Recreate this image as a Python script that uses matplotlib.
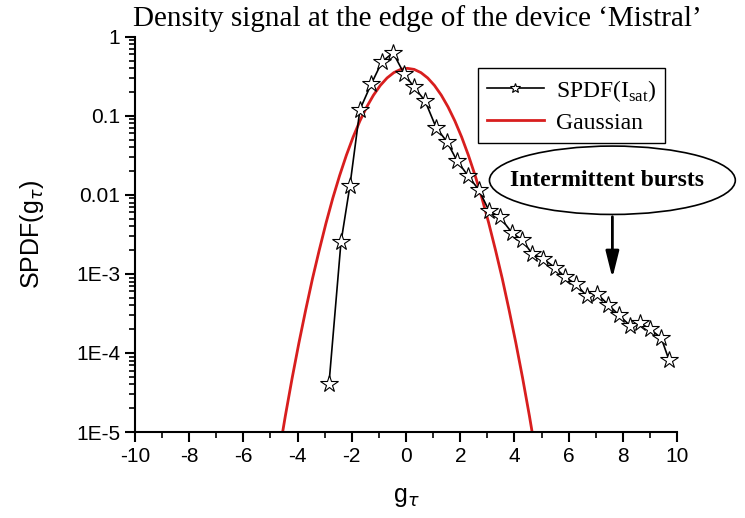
import matplotlib
matplotlib.use("Agg")
import matplotlib.pyplot as plt
from matplotlib.patches import Ellipse
from matplotlib.ticker import FixedLocator, MultipleLocator

# SPDF of the saturation current
g_data = [-2.84, -2.40, -2.07, -1.70, -1.29, -0.89, -0.48, -0.07, 0.30, 0.70,
          1.11, 1.51, 1.88, 2.29, 2.69, 3.06, 3.47, 3.91, 4.28, 4.65, 5.06,
          5.50, 5.87, 6.27, 6.68, 7.05, 7.45, 7.86, 8.27, 8.63, 9.00, 9.41, 9.70]
spdf_data = [4.1e-5, 2.5e-3, 0.013, 0.12, 0.25, 0.48, 0.63, 0.34, 0.23, 0.155,
             0.071, 0.047, 0.027, 0.0174, 0.0115, 0.0063, 0.0052, 0.0033,
             0.0027, 0.0018, 0.00155, 0.0012, 0.00091, 0.00074, 0.00052,
             0.00056, 0.00041, 0.00030, 0.00022, 0.00024, 0.00020, 0.000155,
             0.000081]

# Gaussian reference curve
g_gauss = [-4.55, -4.45, -4.2, -3.95, -3.7, -3.45, -3.2, -2.95, -2.7, -2.45, -2.2,
           -1.95, -1.7, -1.45, -1.2, -0.95, -0.7, -0.45, -0.2, 0.05, 0.3, 0.55,
           0.8, 1.05, 1.3, 1.55, 1.8, 2.05, 2.3, 2.55, 2.8, 3.05, 3.3, 3.55,
           3.8, 4.05, 4.3, 4.55, 4.65]
pdf_gauss = [1.0e-5, 1.6e-5, 4.8e-5, 1.34e-4, 3.5e-4, 8.7e-4, 2.0e-3, 4.4e-3,
             9.1e-3, 0.0175, 0.0317, 0.054, 0.0863, 0.1295, 0.1826, 0.242,
             0.3011, 0.3521, 0.3867, 0.3989, 0.3867, 0.3521, 0.3011, 0.242,
             0.1826, 0.1295, 0.0863, 0.054, 0.0317, 0.0175, 9.1e-3, 4.4e-3,
             2.0e-3, 8.7e-4, 3.5e-4, 1.34e-4, 4.8e-5, 1.6e-5, 1.0e-5]

y_ticks = [1e-5, 1e-4, 1e-3, 1e-2, 1e-1, 1]
y_labels = ["1E-5", "1E-4", "1E-3", "0.01", "0.1", "1"]
x_ticks = list(range(-10, 11, 2))

serif = "Liberation Serif"
sans = "Liberation Sans"

plt.rcParams["axes.unicode_minus"] = False
plt.rcParams["mathtext.fontset"] = "custom"
plt.rcParams["mathtext.rm"] = serif

fig = plt.figure(figsize=(7.45, 5.18), dpi=100)
ax = fig.add_axes([0.181, 0.166, 0.728, 0.763])

ax.plot(g_gauss, pdf_gauss, color="#d81e1e", lw=2, label="Gaussian", zorder=2)
ax.plot(g_data, spdf_data, color="black", lw=1.2, marker="*", markersize=13,
        markerfacecolor="white", markeredgecolor="black", markeredgewidth=0.8,
        label=r"SPDF(I$_{\mathrm{sat}}$)", zorder=3, clip_on=False)

ax.set_yscale("log")
ax.set_xlim(-10, 10)
ax.set_ylim(1e-5, 1)
ax.yaxis.set_major_locator(FixedLocator(y_ticks))
ax.set_yticklabels(y_labels)
ax.set_xticks(x_ticks)
ax.xaxis.set_minor_locator(MultipleLocator(1))

for s in ["top", "right"]:
    ax.spines[s].set_visible(False)
for s in ["left", "bottom"]:
    ax.spines[s].set_linewidth(1.5)

ax.tick_params(which="major", length=7, width=1.5, labelsize=15)
ax.tick_params(which="minor", length=4, width=1.2)
for lab in ax.get_xticklabels() + ax.get_yticklabels():
    lab.set_family(sans)

ax.set_xlabel(r"g$_\tau$", fontsize=18, family=sans, labelpad=14)
ax.set_ylabel(r"SPDF(g$_\tau$)", fontsize=18, family=sans, labelpad=22)
ax.set_title("Density signal at the edge of the device \u2018Mistral\u2019",
             fontsize=21, family=serif, pad=8, x=0.52)

handles, labels = ax.get_legend_handles_labels()
leg = ax.legend(handles[::-1], labels[::-1], loc="upper right",
                bbox_to_anchor=(1.0, 0.95), prop={"family": serif, "size": 17},
                fancybox=False, edgecolor="black", framealpha=1,
                handlelength=2.4, borderpad=0.4, labelspacing=0.35,
                handletextpad=0.5, markerscale=0.6)
leg.get_frame().set_linewidth(1.0)

# ellipse callout with arrow
fig.patches.append(Ellipse((0.822, 0.652), 0.33, 0.132, transform=fig.transFigure,
                           facecolor="white", edgecolor="black", lw=1.2))
fig.text(0.815, 0.652, "Intermittent bursts", ha="center", va="center",
         fontsize=17, family=serif, fontweight="bold")
ax.annotate("", xy=(0.822, 0.458), xycoords="figure fraction",
            xytext=(0.822, 0.587), textcoords="figure fraction",
            arrowprops=dict(arrowstyle="-|>,head_length=0.8,head_width=0.2",
                            mutation_scale=20, lw=2, color="black"))

fig.savefig("out.png", dpi=100)
